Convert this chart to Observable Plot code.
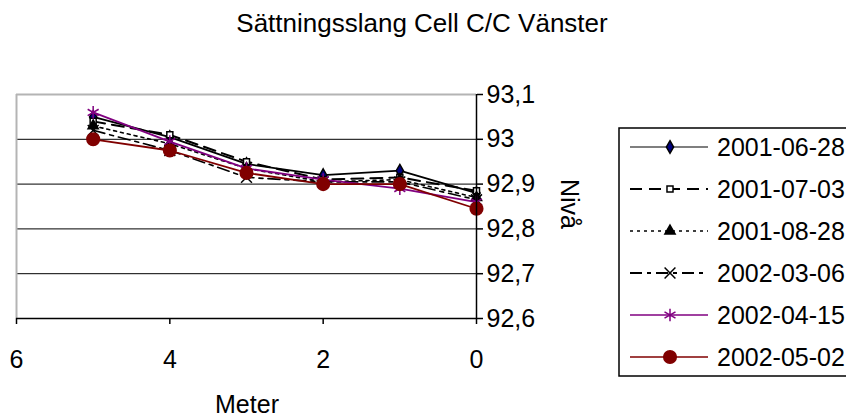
<!DOCTYPE html>
<html><head><meta charset="utf-8">
<script src="https://cdn.jsdelivr.net/npm/d3@7"></script>
<script src="https://cdn.jsdelivr.net/npm/@observablehq/plot@0.6"></script>
<style>body{margin:0;background:#fff} svg{display:block}</style>
</head><body><div id="chart"></div>
<script>
const title = "Sättningsslang Cell C/C Vänster";
const xLabel = "Meter";
const yLabel = "Nivå";
const meters = [5, 4, 3, 2, 1, 0];
const seriesNames = ["2001-06-28", "2001-07-03", "2001-08-28", "2002-03-06", "2002-04-15", "2002-05-02"];
const s20010628 = [93.05, 93.005, 92.945, 92.92, 92.93, 92.88];
const s20010703 = [93.04, 93.01, 92.95, 92.91, 92.915, 92.885];
const s20010828 = [93.03, 92.99, 92.935, 92.905, 92.91, 92.87];
const s20020306 = [93.02, 92.975, 92.915, 92.905, 92.905, 92.865];
const s20020415 = [93.06, 92.995, 92.935, 92.91, 92.89, 92.86];
const s20020502 = [93.00, 92.975, 92.925, 92.90, 92.90, 92.845];
const seriesValues = [s20010628, s20010703, s20010828, s20020306, s20020415, s20020502];
const yTicks = [92.6, 92.7, 92.8, 92.9, 93.0, 93.1];
const xTicks = [6, 4, 2, 0];

const styles = [
  {stroke: "#000", dash: null, symbol: "diamond", fill: "#000080", mstroke: "#000", r: 3.8, sw: 1.8, lsw: 1.2},
  {stroke: "#000", dash: "12,7", symbol: "square", fill: "#fff", mstroke: "#000", r: 3.4, sw: 2, lsw: 2.2},
  {stroke: "#000", dash: "3,4", symbol: "triangle", fill: "#000", mstroke: "#000", r: 3.8, sw: 1.6, lsw: 1.6},
  {stroke: "#000", dash: "12,5,4,5", symbol: "times", fill: "none", mstroke: "#000", r: 5, sw: 1.6, lsw: 2},
  {stroke: "#800080", dash: null, symbol: "asterisk", fill: "none", mstroke: "#800080", r: 6, sw: 1.8, lsw: 1.3},
  {stroke: "#800000", dash: null, symbol: "circle", fill: "#800000", mstroke: "#800000", r: 6.3, sw: 1.8, lsw: 1.3}
];

const rows = [];
seriesNames.forEach((name, i) => meters.forEach((m, j) => rows.push({series: name, idx: i, x: m, y: seriesValues[i][j]})));

const fmt = d => String(+d.toFixed(1)).replace(".", ",");

const marks = [
  Plot.ruleY(yTicks.filter(v => v > 92.6 && v < 93.1), {stroke: "#000", strokeWidth: 1}),
  Plot.ruleY([93.1], {stroke: "#b4b4b4", strokeWidth: 2}),
  Plot.ruleX([6], {stroke: "#b4b4b4", strokeWidth: 2})
];
seriesNames.forEach((name, i) => {
  const st = styles[i];
  const d = rows.filter(r => r.idx === i);
  marks.push(Plot.line(d, {x: "x", y: "y", stroke: st.stroke, strokeWidth: st.sw, strokeDasharray: st.dash}));
  marks.push(Plot.dot(d, {x: "x", y: "y", symbol: () => st.symbol, fill: st.fill, stroke: st.mstroke, strokeWidth: 1.5, r: st.r}));
});
marks.push(
  Plot.ruleX([0], {stroke: "#000", strokeWidth: 1.5}),
  Plot.ruleY([92.6], {stroke: "#000", strokeWidth: 1.5}),
  Plot.axisY({anchor: "right", ticks: yTicks, tickSize: 6, tickPadding: 4, tickFormat: fmt, label: null, stroke: "#000", strokeWidth: 1.5}),
  Plot.axisX({anchor: "bottom", ticks: xTicks, tickSize: 6, tickPadding: 26, tickFormat: d => String(d), label: null, stroke: "#000", strokeWidth: 1.5})
);

const chart = Plot.plot({
  width: 846, height: 419,
  marginLeft: 16, marginRight: 370, marginTop: 94, marginBottom: 101,
  x: {domain: [6, 0], range: [16, 476]},
  y: {domain: [92.6, 93.1]},
  symbol: {type: "identity"},
  style: {fontFamily: "'Liberation Sans', Arial, sans-serif", fontSize: "25px", color: "#000", background: "#fff", overflow: "visible"},
  marks
});
document.getElementById("chart").appendChild(chart);

const svg = d3.select(chart);
const font = "'Liberation Sans', Arial, sans-serif";
svg.append("text").attr("x", 422).attr("y", 32).attr("text-anchor", "middle")
  .attr("font-family", font).attr("font-size", 26).attr("fill", "#000").text(title);
svg.append("text").attr("x", 247).attr("y", 413).attr("text-anchor", "middle")
  .attr("font-family", font).attr("font-size", 25).attr("fill", "#000").text(xLabel);
svg.append("text").attr("transform", "translate(561,204) rotate(90)").attr("text-anchor", "middle")
  .attr("font-family", font).attr("font-size", 25).attr("fill", "#000").text(yLabel);

// legend
const lg = svg.append("g");
lg.append("rect").attr("x", 619).attr("y", 128).attr("width", 240).attr("height", 248)
  .attr("fill", "#fff").attr("stroke", "#000").attr("stroke-width", 1.5);
const symMap = {diamond: d3.symbolDiamond, square: d3.symbolSquare, triangle: d3.symbolTriangle, times: d3.symbolTimes, asterisk: d3.symbolAsterisk, circle: d3.symbolCircle};
seriesNames.forEach((name, i) => {
  const st = styles[i];
  const y = 147 + i * 42;
  lg.append("line").attr("x1", 630).attr("x2", 708).attr("y1", y).attr("y2", y)
    .attr("stroke", st.stroke).attr("stroke-width", st.lsw).attr("stroke-dasharray", st.dash);
  lg.append("path").attr("transform", `translate(670,${y})`)
    .attr("d", d3.symbol(symMap[st.symbol], Math.PI * st.r * st.r)())
    .attr("fill", st.fill).attr("stroke", st.mstroke).attr("stroke-width", 1.5);
  lg.append("text").attr("x", 717).attr("y", y).attr("dy", "0.35em").attr("text-anchor", "start")
    .attr("font-family", font).attr("font-size", 25).attr("fill", "#000").text(name);
});
</script></body></html>
